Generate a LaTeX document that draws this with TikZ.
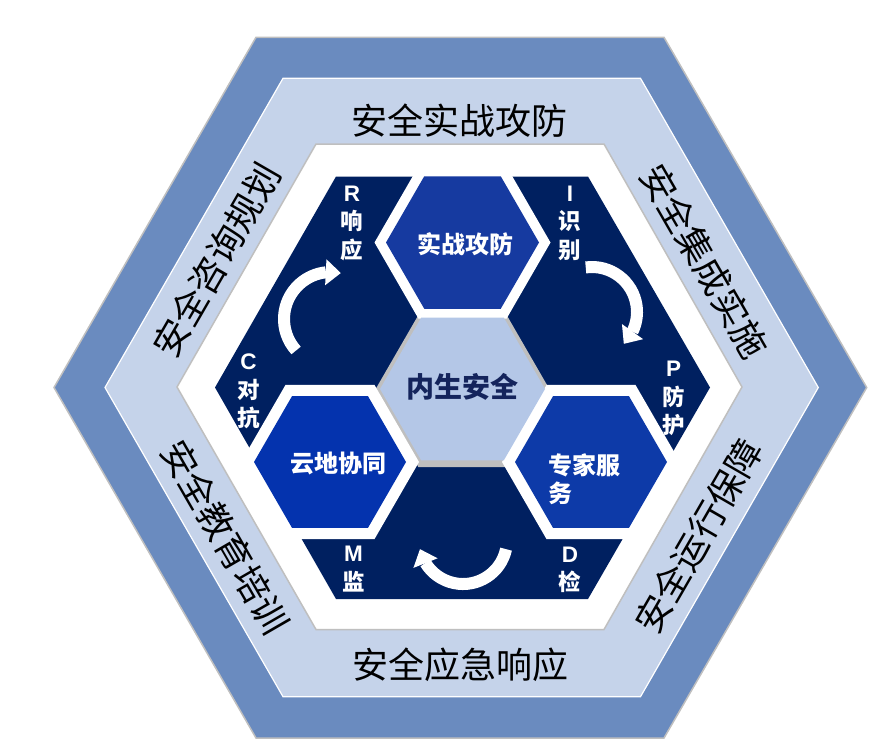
\documentclass[tikz,border=0pt]{standalone}
\usepackage{fontspec}
\setmainfont{Noto Sans CJK SC}
\newfontfamily\letterfont{Liberation Sans}
\usetikzlibrary{arrows.meta,bending}

\definecolor{outerblue}{RGB}{106,139,191}
\definecolor{bandblue}{RGB}{197,211,234}
\definecolor{edgegray}{RGB}{191,191,191}
\definecolor{navyfill}{RGB}{0,32,96}
\definecolor{hexA}{RGB}{22,58,160}
\definecolor{hexB}{RGB}{4,51,174}
\definecolor{hexC}{RGB}{13,58,168}
\definecolor{centerblue}{RGB}{180,199,231}
\definecolor{centertext}{RGB}{20,36,92}

\newcommand{\hexfill}[4]{\fill[#1] ({#2-#4},{#3}) -- ({#2-0.5*#4},{#3-0.8660254*#4}) -- ({#2+0.5*#4},{#3-0.8660254*#4}) -- ({#2+#4},{#3}) -- ({#2+0.5*#4},{#3+0.8660254*#4}) -- ({#2-0.5*#4},{#3+0.8660254*#4}) -- cycle;}

\begin{document}
\begin{tikzpicture}[x=1pt,y=-1pt,
  bandtext/.style={font=\fontsize{36}{36}\selectfont, text=black, inner sep=0pt},
  hextext/.style={font=\fontsize{24}{28}\selectfont\bfseries, text=white, inner sep=0pt},
  lettertext/.style={font=\fontsize{22.5}{28.5}\selectfont\bfseries, text=white, align=center, inner sep=0pt},
  cyclearrow/.style={draw=white, line width=12pt, -{Triangle[length=15pt,width=26pt,line width=0pt,flex]}}]
\useasboundingbox (0,0) rectangle (890,753);

% outer rings
\filldraw[fill=outerblue, draw=edgegray, line width=1.5pt, line join=miter]
  (54,387.5) -- (256,37.3) -- (664,37.3) -- (866.7,387.5) -- (664,738) -- (256,738) -- cycle;
\filldraw[fill=bandblue, draw=white, line width=1.2pt]
  (105,387.5) -- (283,78.3) -- (640.5,78.3) -- (818.3,387.5) -- (640.5,696.7) -- (283,696.7) -- cycle;
\filldraw[fill=white, draw=edgegray, line width=1.5pt]
  (177,387) -- (316,144) -- (604,144) -- (742,387) -- (604,629.5) -- (316,629.5) -- cycle;
\fill[navyfill]
  (215,387.5) -- (336,176.5) -- (588,176.5) -- (710,387.5) -- (588,599) -- (336,599) -- cycle;

% centre hexagon border
\hexfill{edgegray}{462.5}{391}{88}
% white borders of the three blue hexagons
\hexfill{white}{462.5}{242.5}{88}
\hexfill{white}{330}{462}{89}
\hexfill{white}{591}{462}{89}
% centre hexagon
\hexfill{centerblue}{462.5}{389}{82.5}
% blue hexagons
\hexfill{hexA}{462.5}{242.5}{76.5}
\hexfill{hexB}{330}{462}{76}
\hexfill{hexC}{591}{462}{76}

% cycle arrows
\draw[cyclearrow] ([shift={(138:47)}]331,319) arc[start angle=138, end angle=282, radius=47];
\draw[cyclearrow] ([shift={(262:45)}]592,312) arc[start angle=262, end angle=405, radius=45];
\draw[cyclearrow] ([shift={(12:44)}]463,540) arc[start angle=12, end angle=168, radius=44];

% band texts
\node[bandtext] (tTop) at (459,121) {安全实战攻防};
\node[bandtext] (tBot) at (460,665) {安全应急响应};
\node[bandtext, rotate=60] (tUL) at (216.5,260) {安全咨询规划};
\node[bandtext, rotate=-60] (tUR) at (704,261) {安全集成实施};
\node[bandtext, rotate=-60] (tLL) at (225,537) {安全教育培训};
\node[bandtext, rotate=60] (tLR) at (699,536) {安全运行保障};

% hexagon texts
\node[hextext] (hTop) at (465.5,244) {实战攻防};
\node[font=\fontsize{28}{28}\selectfont\bfseries, text=centertext, inner sep=0pt] (hCen) at (462,387) {内生安全};
\node[hextext] (hLL) at (338.5,463) {云地协同};
\node[hextext, align=left, anchor=west] (hLR) at (548,479) {专家服\\务};

% cycle labels
\node[lettertext] (lR) at (352,223) {{\letterfont R}\\响\\应};
\node[lettertext] (lI) at (570,223) {{\letterfont I}\\识\\别};
\node[lettertext] (lC) at (248.5,391.5) {{\letterfont C}\\对\\抗};
\node[lettertext] (lP) at (673.5,398.5) {{\letterfont P}\\防\\护};
\node[lettertext] (lM) at (353.5,569) {{\letterfont M}\\监};
\node[lettertext] (lD) at (570,570) {{\letterfont D}\\检};
\end{tikzpicture}
\end{document}
